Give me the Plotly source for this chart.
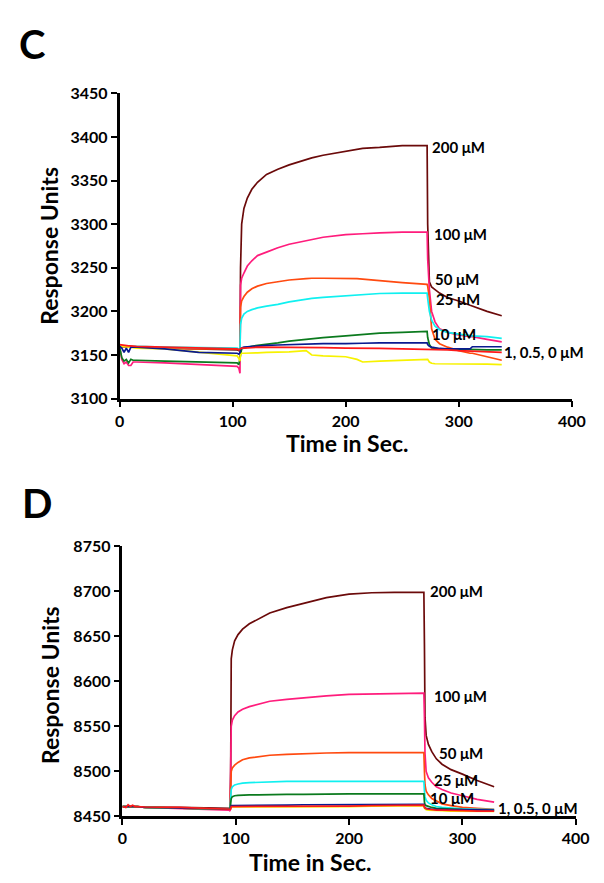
import plotly.graph_objects as go

# ---- panel C data (time grid shared by all curves) ----
t_c = [0, 2, 4, 6, 8, 10, 12, 15, 40, 70, 104, 105.5, 106.5, 107, 108, 110, 113, 117, 122, 130,
       140, 150, 165, 170, 180, 200, 210, 215, 230, 250, 272, 272.5, 274, 276, 279, 283, 290, 300,
       310, 312, 325, 338]

c_200 = [3160, 3159, 3159, 3159, 3159, 3159, 3159, 3159, 3158, 3157, 3156, 3155, 3155, 3250, 3300, 3318, 3330, 3340, 3348, 3357,
         3363, 3368, 3374, 3376, 3379, 3384, 3386, 3387, 3388, 3390, 3390, 3300, 3234, 3228, 3225, 3221, 3216, 3212,
         3207, 3206, 3200, 3195]
c_100 = [3160, 3145, 3140, 3142, 3138, 3138, 3142, 3142, 3141, 3139, 3137, 3135, 3129, 3230, 3238, 3244, 3252, 3258, 3264, 3268,
         3273, 3277, 3281, 3283, 3285, 3288, 3289, 3289, 3290, 3291, 3291, 3260, 3225, 3200, 3188, 3180, 3176, 3173,
         3171, 3171, 3168, 3165]
c_50 = [3160, 3159, 3159, 3159, 3159, 3159, 3159, 3159, 3158, 3157, 3157, 3156, 3156, 3205, 3212, 3217, 3222, 3226, 3229, 3232,
        3234, 3236, 3237.5, 3238, 3238, 3238, 3237.5, 3237, 3235, 3233, 3231, 3229, 3215, 3180, 3168, 3163, 3159, 3155,
        3152, 3152, 3148, 3144]
c_25 = [3160, 3160, 3160, 3160, 3160, 3160, 3160, 3160, 3159, 3158.5, 3158, 3157, 3157, 3185, 3192, 3197, 3200, 3202, 3204, 3206,
        3208, 3211, 3214, 3215, 3216, 3218, 3219, 3219.5, 3220.5, 3221, 3221, 3215, 3200, 3190, 3183, 3179, 3176, 3174,
        3172, 3172, 3171, 3169]
c_10 = [3160, 3147, 3143, 3145, 3141, 3145, 3144, 3144, 3143, 3142, 3141, 3139, 3145, 3150, 3157, 3158, 3159, 3160, 3161, 3162,
        3164, 3166, 3168, 3169, 3170, 3172, 3173, 3173.5, 3175, 3176, 3177, 3170, 3162, 3158, 3157.5, 3157, 3157, 3156.5,
        3156, 3156, 3156, 3156]
c_1 = [3161, 3160, 3160, 3159.5, 3159, 3159, 3158.5, 3158, 3157, 3153, 3149, 3146, 3143, 3150, 3152, 3152, 3152, 3152, 3152.5, 3153,
       3153, 3153.5, 3155, 3150, 3149, 3148, 3145, 3142, 3143, 3144, 3145.5, 3145, 3142, 3140.5, 3140, 3140, 3139.5, 3139.5,
       3139.5, 3139.5, 3139.5, 3139]
c_05 = [3160, 3158, 3153, 3158, 3153, 3159, 3159, 3159, 3157, 3153, 3152, 3151, 3153, 3157, 3158, 3159, 3159.5, 3160, 3160.5, 3161,
        3161.5, 3162, 3162.5, 3162.5, 3163, 3163, 3163, 3163.5, 3164, 3164, 3164, 3162, 3160, 3159, 3158, 3157.5, 3157, 3157,
        3157, 3159.5, 3159.5, 3159.5]
c_0 = [3162, 3161.5, 3161, 3161, 3160.5, 3160.5, 3160, 3160, 3159, 3158, 3157, 3156, 3157, 3157, 3158, 3158, 3158.5, 3158.5, 3159, 3159,
       3159, 3159, 3158.5, 3158.5, 3158.5, 3158, 3158, 3158, 3157.5, 3157, 3156.5, 3156.5, 3156.5, 3156.5, 3156, 3156, 3156, 3155,
       3154.5, 3154.5, 3154, 3153]

# ---- panel D data ----
t_d = [0, 3, 5, 7, 9, 11, 13, 20, 50, 94, 95, 95.5, 96, 97, 99, 102, 106, 112, 120, 130, 145, 160, 180, 200,
       220, 240, 266, 266.5, 267, 268, 270, 273, 277, 282, 290, 300, 313, 328]

d_200 = [8461, 8461, 8461, 8461, 8461, 8461, 8461, 8460.5, 8460, 8459, 8459, 8500, 8625, 8635, 8645, 8652, 8658, 8664, 8669, 8676, 8682, 8687, 8693, 8697,
         8698.5, 8699, 8699, 8640, 8560, 8540, 8530, 8522, 8514, 8508, 8502, 8497, 8490, 8483]
d_100 = [8461, 8461, 8461, 8461, 8461, 8461, 8461, 8460, 8459, 8457, 8456, 8500, 8550, 8557, 8562, 8566, 8569, 8572, 8575, 8578, 8580, 8582, 8584, 8585.5,
         8586, 8586.5, 8587, 8560, 8520, 8500, 8493, 8488, 8483, 8480, 8476, 8473, 8469, 8466]
d_50 = [8461, 8461, 8461, 8461, 8461, 8461, 8461, 8460, 8459.5, 8458.5, 8458, 8480, 8500, 8504, 8507, 8510, 8513, 8515, 8516.5, 8518, 8519, 8520, 8520.5, 8521,
        8521, 8521, 8521, 8500, 8485, 8478, 8474, 8470, 8467, 8464, 8462, 8460, 8459, 8458]
d_25 = [8461, 8461, 8461, 8461, 8461, 8461, 8461, 8460, 8459.5, 8458.5, 8458, 8470, 8480, 8483, 8485, 8486, 8487, 8487.5, 8488, 8488.5, 8489, 8489, 8489, 8489,
        8489, 8489, 8489, 8478, 8472, 8468, 8465, 8463, 8461, 8460, 8459, 8458.5, 8458, 8457.5]
d_10 = [8461, 8461, 8461, 8461, 8461, 8461, 8461, 8460, 8459.5, 8458.5, 8458, 8465, 8470, 8472, 8473, 8473.5, 8474, 8474, 8474, 8474.5, 8474.5, 8474.5, 8475, 8475,
        8475, 8475, 8475, 8466, 8463, 8462, 8461, 8460, 8459, 8458.5, 8458, 8457.5, 8457, 8456.5]
d_1 = [8461, 8461, 8461, 8461, 8461, 8461, 8461, 8460, 8459.5, 8458.5, 8458, 8459, 8460.5, 8460.5, 8460.5, 8460.5, 8460.5, 8460.5, 8460.5, 8461, 8461, 8461, 8461, 8461,
       8461.5, 8461.5, 8462, 8459, 8458, 8457.5, 8457, 8457, 8456.5, 8456.5, 8456, 8456, 8456, 8455.5]
d_05 = [8461, 8461, 8461, 8461, 8461, 8461, 8461, 8460, 8459.5, 8458.5, 8458, 8460, 8462, 8462, 8462, 8462, 8462, 8462, 8462.5, 8462.5, 8462.5, 8463, 8463, 8463,
        8463, 8463.5, 8463.5, 8461, 8459.5, 8459, 8458.5, 8458, 8458, 8457.5, 8457.5, 8457.5, 8457, 8457]
d_0 = [8461, 8460, 8463, 8461, 8462.5, 8461, 8461, 8460.5, 8460, 8458, 8457.5, 8458, 8461, 8461, 8461, 8461, 8461, 8461, 8461, 8461, 8461, 8461, 8461.5, 8461.5,
       8462, 8462, 8462.5, 8460, 8459, 8458.5, 8458, 8457.5, 8457, 8457, 8456.5, 8456.5, 8456, 8456]

colors = ["#6b0a0a", "#ff1c7c", "#ff4a10", "#10f0f0", "#0b7a1e", "#f7f200", "#0a1a90", "#ff1a1a"]

c_series = [c_200, c_100, c_50, c_25, c_10, c_1, c_05, c_0]
d_series = [d_200, d_100, d_50, d_25, d_10, d_1, d_05, d_0]

# concentration labels placed next to the curves
c_lab_x = [275, 276, 277, 278, 275, 338]
c_lab_y = [3388, 3289, 3237, 3214, 3174, 3153]
d_lab_x = [270, 273, 278, 273, 270, 330]
d_lab_y = [8700, 8584, 8520, 8490, 8470, 8459]
lab_txt = ["200 μM", "100 μM", "50 μM", "25 μM", "10 μM", "1, 0.5, 0 μM"]

fig = go.Figure()
for ys, col in zip(c_series, colors):
    fig.add_trace(go.Scatter(x=t_c, y=ys, mode="lines", line=dict(color=col, width=1.7),
                             xaxis="x", yaxis="y", showlegend=False))
for ys, col in zip(d_series, colors):
    fig.add_trace(go.Scatter(x=t_d, y=ys, mode="lines", line=dict(color=col, width=1.7),
                             xaxis="x2", yaxis="y2", showlegend=False))

W, H = 604, 883
FONT = "Lato"
tickf = dict(family=FONT, size=16, color="black", weight="bold")


def ax(**kw):
    d = dict(showline=True, linecolor="black", linewidth=2.5, ticks="outside", ticklen=6,
             tickwidth=2, tickcolor="black", showgrid=False, zeroline=False, tickfont=tickf,
             fixedrange=True)
    d.update(kw)
    return d


fig.update_layout(
    width=W, height=H, margin=dict(l=0, r=0, t=0, b=0),
    paper_bgcolor="white", plot_bgcolor="white",
    xaxis=ax(domain=[110 / W, 577 / W], range=[0, 400], dtick=100, anchor="y"),
    yaxis=ax(domain=[1 - 389 / H, 1 - 77 / H], range=[3100, 3450], dtick=50, anchor="x"),
    xaxis2=ax(domain=[113 / W, 581 / W], range=[0, 400], dtick=100, anchor="y2"),
    yaxis2=ax(domain=[1 - 816 / H, 1 - 540 / H], range=[8450, 8750], dtick=50, anchor="x2"),
)

ann = []
labf = dict(family=FONT, size=15, color="black", weight="bold")
for x, y, s in zip(c_lab_x, c_lab_y, lab_txt):
    ann.append(dict(x=x, y=y, xref="x", yref="y", text=s, showarrow=False, xanchor="left",
                    yanchor="middle", font=labf))
for x, y, s in zip(d_lab_x, d_lab_y, lab_txt):
    ann.append(dict(x=x, y=y, xref="x2", yref="y2", text=s, showarrow=False, xanchor="left",
                    yanchor="middle", font=labf, height=16))

titf = dict(family=FONT, size=23, color="black", weight="bold")
letf = dict(family=FONT, size=40, color="black", weight="bold")


def paper(px, py, text, font, angle=0):
    return dict(x=px / W, y=1 - py / H, xref="paper", yref="paper", text=text, showarrow=False,
                xanchor="center", yanchor="middle", font=font, textangle=angle)


ann += [
    paper(20, 27, "C", letf),
    paper(25, 496, "D", letf),
    paper(37, 233, "Response Units", titf, -90),
    paper(39, 682, "Response Units", titf, -90),
    paper(345, 434, "Time in Sec.", titf),
    paper(307, 863, "Time in Sec.", titf),
]
fig.update_layout(annotations=ann)

fig.write_html("out.html")
